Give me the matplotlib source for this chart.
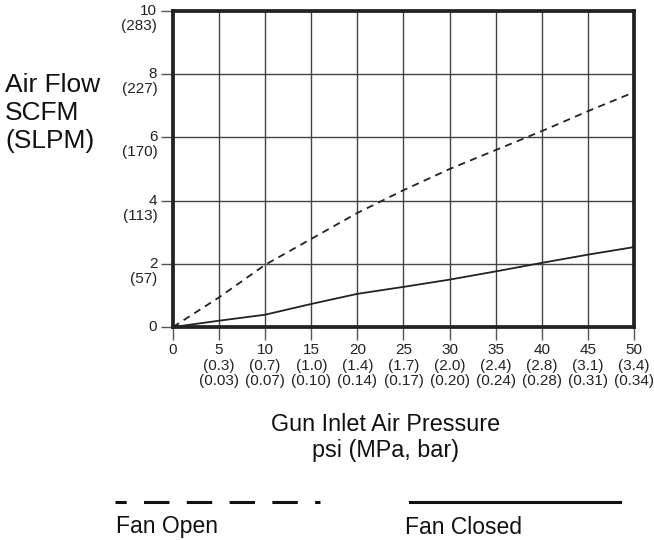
import numpy as np
import matplotlib.pyplot as plt
from matplotlib.lines import Line2D

plt.rcParams['font.family'] = ['Liberation Sans', 'DejaVu Sans']

# Datos
psi = [0, 5, 10, 15, 20, 25, 30, 35, 40, 45, 50]
fan_open = [0, 0.94, 1.97, 2.79, 3.61, 4.33, 5.0, 5.6, 6.2, 6.83, 7.43]
fan_closed = [0, 0.2, 0.39, 0.73, 1.05, 1.27, 1.5, 1.76, 2.03, 2.29, 2.53]

mpa_labels = ['', '(0.3)', '(0.7)', '(1.0)', '(1.4)', '(1.7)', '(2.0)', '(2.4)', '(2.8)', '(3.1)', '(3.4)']
bar_labels = ['', '(0.03)', '(0.07)', '(0.10)', '(0.14)', '(0.17)', '(0.20)', '(0.24)', '(0.28)', '(0.31)', '(0.34)']

scfm = [0, 2, 4, 6, 8, 10]
slpm_labels = ['', '(57)', '(113)', '(170)', '(227)', '(283)']

fig = plt.figure(figsize=(6.54, 5.4), dpi=100)
ax = fig.add_axes([0.2645, 0.3944, 0.7049, 0.5852])

ax.plot(psi, fan_open, color='#222222', lw=1.3, dashes=(4, 3))
ax.plot(psi, fan_closed, color='#222222', lw=1.3)

ax.set_xlim(0, 50)
ax.set_ylim(0, 10)
ax.set_xticks(psi)
ax.set_yticks(scfm)
ax.set_xticklabels([])
ax.set_yticklabels([])
ax.grid(True, color='#444444', lw=1)
ax.tick_params(length=9, width=1, color='#555555', direction='out')
for s in ax.spines.values():
    s.set_linewidth(2.7)
    s.set_color('#222222')

# Etiquetas del eje y (dos lineas)
ytr = ax.get_yaxis_transform()
for v, lab in zip(scfm, slpm_labels):
    ax.text(-0.034, v, str(v), transform=ytr, ha='right', va='center', fontsize=11, color='#222222')
    ax.text(-0.034, v - 0.25, lab, transform=ytr, ha='right', va='top', fontsize=11, color='#222222')

# Etiquetas del eje x (tres lineas)
xtr = ax.get_xaxis_transform()
for v, l1, l2 in zip(psi, mpa_labels, bar_labels):
    ax.text(v, -0.072, str(v), transform=xtr, ha='center', va='center', fontsize=11, color='#222222')
    ax.text(v, -0.122, l1, transform=xtr, ha='center', va='center', fontsize=11, color='#222222')
    ax.text(v, -0.170, l2, transform=xtr, ha='center', va='center', fontsize=11, color='#222222')

fig.text(0.008, 0.791, 'Air Flow\nSCFM\n(SLPM)', ha='left', va='center', fontsize=19,
         linespacing=1.2, color='#111111')
fig.text(0.589, 0.19, 'Gun Inlet Air Pressure\npsi (MPa, bar)', ha='center', va='center',
         fontsize=16.8, linespacing=1.15, color='#111111')

# Leyenda manual
fig.add_artist(Line2D([0.176, 0.49], [0.071, 0.071], color='#111111', lw=2.2,
                      linestyle=(4.67, (8.33, 5.67))))
fig.add_artist(Line2D([0.627, 0.948], [0.071, 0.071], color='#111111', lw=2.2))
fig.text(0.178, 0.013, 'Fan Open', ha='left', va='baseline', fontsize=16.5, color='#111111')
fig.text(0.619, 0.011, 'Fan Closed', ha='left', va='baseline', fontsize=16.5, color='#111111')

fig.savefig('out.png', dpi=100)
